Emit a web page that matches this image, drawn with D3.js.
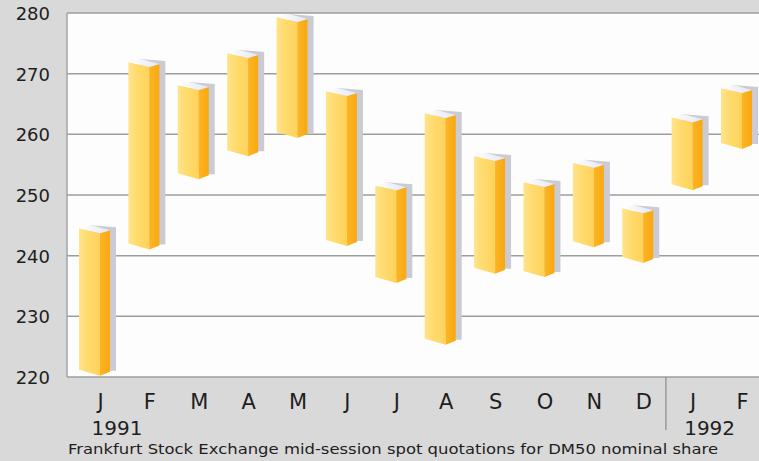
<!DOCTYPE html>
<html>
<head>
<meta charset="utf-8">
<script src="https://cdn.jsdelivr.net/npm/d3@7"></script>
<style>
  html, body { margin: 0; padding: 0; background: #d9d9d9; }
  svg { display: block; }
  text { font-family: "DejaVu Sans", Verdana, sans-serif; fill: #1e1e1e; }
</style>
</head>
<body>
<svg id="chart" width="759" height="461"></svg>
<script>
// Monthly trading range (low / high) of the share, DM
const months = ["J", "F", "M", "A", "M", "J", "J", "A", "S", "O", "N", "D", "J", "F"];
const years  = ["1991", "", "", "", "", "", "", "", "", "", "", "", "1992", ""];
const lows   = [220.2, 241.0, 252.6, 256.4, 259.4, 241.6, 235.5, 225.3, 237.0, 236.5, 241.4, 238.8, 250.8, 257.6];
const highs  = [243.7, 271.1, 267.3, 272.6, 278.5, 266.3, 250.8, 262.7, 255.6, 251.3, 254.5, 247.0, 262.0, 266.8];
const yTicks = [220, 230, 240, 250, 260, 270, 280];
const caption = "Frankfurt Stock Exchange mid-session spot quotations for DM50 nominal share";

const svg = d3.select("#chart");
const W = 759, H = 461;
const plot = { left: 67, right: 759, top: 13, bottom: 377 };
const WIDE = "'DejaVu Sans', Verdana, sans-serif";
const SANS = "'Liberation Sans', Arial, Helvetica, sans-serif";

const idx = months.map((m, i) => i);
const x = d3.scalePoint().domain(idx).range([100, 742]);
const y = d3.scaleLinear().domain([220, 280]).range([plot.bottom, plot.top]);

// gradients for the prism faces
const defs = svg.append("defs");
function grad(id, stops, x2 = "100%", y2 = "0%") {
  const g = defs.append("linearGradient").attr("id", id)
    .attr("x1", "0%").attr("y1", "0%").attr("x2", x2).attr("y2", y2);
  stops.forEach(([o, c]) => g.append("stop").attr("offset", o).attr("stop-color", c));
}
grad("front", [["0%", "#ffe48c"], ["45%", "#ffda6c"], ["100%", "#ffd35a"]]);
grad("side",  [["0%", "#fdb523"], ["100%", "#f8a812"]]);
grad("cap",   [["0%", "#ffffff"], ["100%", "#e4e8f4"]]);

// background
svg.append("rect").attr("width", W).attr("height", H).attr("fill", "#d9d9d9");

// plot area
svg.append("rect")
  .attr("x", plot.left).attr("y", plot.top)
  .attr("width", plot.right - plot.left).attr("height", plot.bottom - plot.top)
  .attr("fill", "#fdfdfd");

// horizontal gridlines
svg.append("g").selectAll("line").data(yTicks).join("line")
  .attr("x1", plot.left).attr("x2", plot.right)
  .attr("y1", d => y(d)).attr("y2", d => y(d))
  .attr("stroke", "#9d9d9d").attr("stroke-width", 1.5);
svg.append("line")
  .attr("x1", plot.left).attr("x2", plot.left)
  .attr("y1", plot.top).attr("y2", plot.bottom)
  .attr("stroke", "#a5a5a5").attr("stroke-width", 1.5);

// y axis labels
const yAxis = d3.axisLeft(y).tickValues(yTicks).tickSize(0).tickPadding(17);
const gy = svg.append("g").attr("transform", `translate(${plot.left},0)`).call(yAxis);
gy.select(".domain").remove();
gy.selectAll("text")
  .attr("font-size", 18).attr("fill", "#1e1e1e")
  .attr("font-family", WIDE)
  .attr("dy", "0.36em");

// floating prism bars
const FW = 21, SW = 10;
const bars = svg.append("g");
idx.forEach(i => {
  const c = x(i);
  const yt = y(highs[i]), yb = y(lows[i]);
  const g = bars.append("g");
  // cast shadow on the wall behind
  g.append("path")
    .attr("d", `M${c - 10},${yt - 8} L${c + 16},${yt - 6} L${c + 16},${yb - 5} L${c},${yb - 5} Z`)
    .attr("fill", "#cacbd3");
  // front face
  g.append("path")
    .attr("d", `M${c - FW},${yt - 5} L${c},${yt} L${c},${yb} L${c - FW},${yb - 6} Z`)
    .attr("fill", "url(#front)");
  // side face
  g.append("path")
    .attr("d", `M${c},${yt} L${c + SW},${yt - 3} L${c + SW},${yb - 4} L${c},${yb} Z`)
    .attr("fill", "url(#side)");
  // top cap
  g.append("path")
    .attr("d", `M${c - FW},${yt - 5} L${c - 9},${yt - 8} L${c + SW},${yt - 3} L${c},${yt} Z`)
    .attr("fill", "url(#cap)");
});

// month labels
const xAxis = d3.axisBottom(x).tickFormat(i => months[i]).tickSize(0).tickPadding(0);
const gx = svg.append("g").attr("transform", `translate(0,${plot.bottom})`).call(xAxis);
gx.select(".domain").remove();
gx.selectAll("text")
  .attr("font-size", 21).attr("fill", "#1e1e1e")
  .attr("font-family", SANS)
  .attr("dy", null).attr("y", 32);

// year labels
svg.append("g").selectAll("text").data(idx.filter(i => years[i])).join("text")
  .attr("x", i => x(i) + 17).attr("y", 435)
  .attr("text-anchor", "middle").attr("font-size", 20)
  .attr("font-family", SANS)
  .text(i => years[i]);

// year separator
const sepX = (x(11) + x(12)) / 2 - 2;
svg.append("line")
  .attr("x1", sepX).attr("x2", sepX).attr("y1", plot.bottom).attr("y2", 430)
  .attr("stroke", "#8a8a8a").attr("stroke-width", 1.2);

// caption
svg.append("text")
  .attr("x", 68).attr("y", 454)
  .attr("font-size", 14.5)
  .attr("textLength", 650).attr("lengthAdjust", "spacingAndGlyphs")
  .text(caption);
</script>
</body>
</html>
